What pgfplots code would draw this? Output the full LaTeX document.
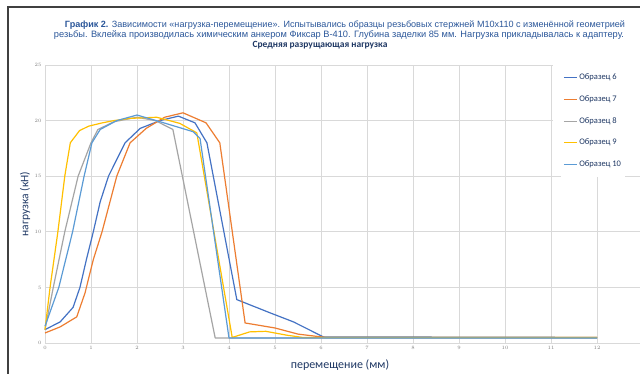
\documentclass[border=0pt]{standalone}
\usepackage{pgfplots}
\pgfplotsset{compat=1.18}
\usepackage{fontspec}
\setmainfont{Liberation Sans}
\newfontfamily\calfont{Carlito}
\definecolor{c6}{HTML}{4472C4}
\definecolor{c7}{HTML}{ED7D31}
\definecolor{c8}{HTML}{A5A5A5}
\definecolor{c9}{HTML}{FFC000}
\definecolor{c10}{HTML}{5B9BD5}
\definecolor{navy}{HTML}{1F3864}
\definecolor{capblue}{HTML}{2B579A}
\definecolor{gridc}{HTML}{D9D9D9}
\begin{document}
\begin{tikzpicture}[x=1pt,y=1pt]
\useasboundingbox (0,0) rectangle (640,374);
\fill[white] (0,0) rectangle (640,374);
\draw[line width=1.2pt,black!75] (8,-5) -- (8,367) -- (650,367);
\node[capblue,inner sep=0pt] at (345,349) {\resizebox{560pt}{!}{\fontsize{8.2}{10}\selectfont\strut\textbf{График 2.} Зависимости «нагрузка-перемещение». Испытывались образцы резьбовых стержней М10х110 с изменённой геометрией}};
\node[capblue,inner sep=0pt] at (339,338.5) {\resizebox{570pt}{!}{\fontsize{8.2}{10}\selectfont\strut резьбы. Вклейка производилась химическим анкером Фиксар В-410. Глубина заделки 85 мм. Нагрузка прикладывалась к адаптеру.}};
\node[navy,font=\calfont\bfseries\fontsize{9.5}{11}\selectfont] at (320,329) {Средняя разрущающая нагрузка};
\node[navy,font=\calfont\fontsize{12}{14}\selectfont] at (340,9) {перемещение (мм)};
\node[navy,font=\calfont\fontsize{11.5}{13}\selectfont,rotate=90] at (25,170) {нагрузка (кН)};
\begin{axis}[
  at={(45pt,31pt)}, anchor=origin,
  scale only axis, width=598pt, height=278pt,
  xmin=0, xmax=13, ymin=0, ymax=25,
  xtick={0,1,...,13}, ytick={0,5,...,25},
  grid=major, major grid style={gridc, line width=0.6pt},
  axis x line*=bottom, axis y line*=left,
  x axis line style={draw=gridc, line width=0.8pt, -},
  y axis line style={draw=none},
  tick style={draw=none},
  tick label style={font=\fontsize{4}{5}\selectfont, text=gray},
  clip=false,
  every axis plot/.append style={line width=1.2pt, line join=round},
  legend cell align=left,
  legend style={at={(axis cs:11.22,25)}, anchor=north west, draw=none, fill=white,
    font=\calfont\fontsize{8.5}{10}\selectfont, row sep=10.3pt,
    inner xsep=2pt, inner ysep=7pt},
  legend image code/.code={\draw[#1, line width=1pt] (0pt,0pt) -- (13pt,0pt);},
]
\addplot[c6] coordinates {(0,1.2)(0.33,1.9)(0.61,3.2)(0.76,5)(0.9,7.5)(1.05,10)(1.2,12.7)(1.38,15)(1.74,18)(2.07,19.3)(2.5,20.0)(2.9,20.4)(3.26,19.8)(3.52,18.0)(4.17,3.9)(4.9,2.7)(5.4,1.9)(6.05,0.55)(12,0.5)};
\addlegendentry{\textcolor{navy}{Образец 6}}
\addplot[c7] coordinates {(0,0.9)(0.33,1.45)(0.69,2.35)(0.87,4.5)(1.05,7.5)(1.24,10)(1.56,15)(1.85,18)(2.2,19.3)(2.6,20.3)(3.0,20.7)(3.5,19.8)(3.8,18.0)(4.35,1.8)(5.0,1.35)(5.5,0.8)(6.1,0.5)(12,0.5)};
\addlegendentry{\textcolor{navy}{Образец 7}}
\addplot[c8] coordinates {(0,1.2)(0.18,5)(0.43,10)(0.72,15)(1.0,18)(1.15,19.2)(1.5,19.9)(2.0,20.3)(2.4,20.0)(2.78,19.2)(3.7,0.45)(12,0.45)};
\addlegendentry{\textcolor{navy}{Образец 8}}
\addplot[c9] coordinates {(0,1.2)(0.11,5)(0.28,10)(0.43,15)(0.55,18)(0.75,19.1)(0.95,19.5)(1.25,19.8)(1.5,20.0)(1.85,20.2)(2.43,20.3)(2.93,19.75)(3.3,18.9)(4.07,0.5)(4.45,1.0)(4.8,1.05)(5.26,0.7)(5.6,0.5)(12,0.5)};
\addlegendentry{\textcolor{navy}{Образец 9}}
\addplot[c10] coordinates {(0,1.5)(0.3,5)(0.6,10)(0.85,15)(1.02,18)(1.2,19.2)(1.56,20.0)(2.0,20.5)(2.5,19.9)(3.22,19.0)(3.37,18.4)(4.0,0.45)(12,0.45)};
\addlegendentry{\textcolor{navy}{Образец 10}}
\fill[white] (axis cs:11.04,25) rectangle (axis cs:13.1,15.1);
\end{axis}
\end{tikzpicture}
\end{document}
